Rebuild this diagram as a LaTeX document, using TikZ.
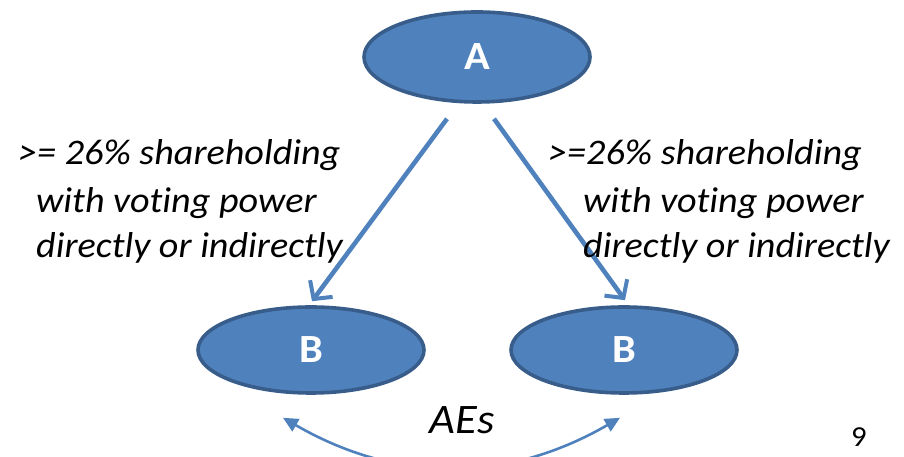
\documentclass[tikz,border=0pt]{standalone}
\usepackage{fontspec}
\setmainfont{Carlito}
\newfontfamily\lblfont[FakeStretch=1.06,Ligatures=NoCommon]{Carlito}
\usetikzlibrary{arrows.meta,calc,shapes.geometric}
\definecolor{fillblue}{HTML}{4F81BD}
\definecolor{edgeblue}{HTML}{385D8A}
\definecolor{arrowblue}{HTML}{4F81BD}
\tikzset{
  entity/.style={ellipse, draw=edgeblue, line width=3.6pt, fill=fillblue,
    minimum width=226pt, minimum height=88pt, inner sep=0pt,
    text=white, font=\lblfont\bfseries\fontsize{40}{40}\selectfont},
  ownarrow/.style={arrowblue, line width=4.6pt,
    -{Straight Barb[length=13pt,width=28pt,line width=4pt]}},
  aearrow/.style={arrowblue, line width=2.6pt,
    {Triangle[length=15pt,width=14pt]}-{Triangle[length=15pt,width=14pt]}},
  lbl/.style={anchor=base west, inner sep=0pt,
    font=\lblfont\itshape\fontsize{36}{36}\selectfont},
}
\begin{document}
\begin{tikzpicture}[x=1pt,y=1pt]
\useasboundingbox (0,0) rectangle (904,457);

% entities
\node[entity, minimum height=90pt] (A) at (477,400) {A};
\node[entity, minimum height=86pt] (B1) at (311,107) {B};
\node[entity, minimum height=86pt] (B2) at (624,107) {B};

% ownership arrows
\coordinate (a1) at ($(A.south)+(-30,-15)$);
\coordinate (a2) at ($(A.south)+(17,-15)$);
\coordinate (b1) at ($(B1.north)+(1,4)$);
\coordinate (b2) at ($(B2.north)+(1,5)$);
\draw[ownarrow] (a1) -- (b1);
\draw[ownarrow] (a2) -- (b2);

% left label
\node[lbl] (l1) at (18,292) {>= 26\% shareholding};
\node[lbl] (l2) at (36,244) {with voting power};
\node[lbl] (l3) at (36,199) {directly or indirectly};

% right label
\node[lbl] (r1) at (548,292) {>=26\% shareholding};
\node[lbl] (r2) at (583,244) {with voting power};
\node[lbl] (r3) at (583,199) {directly or indirectly};

% associated enterprises
\coordinate (c1) at ($(B1.south)+(-28,-23)$);
\coordinate (c2) at ($(B2.south)+(-4,-23)$);
\draw[aearrow] (c1) to[bend right=30] (c2);
\node[font=\lblfont\itshape\fontsize{42}{42}\selectfont, anchor=base] (ae) at (462,23) {AEs};

% page number
\node[font=\lblfont\fontsize{29}{29}\selectfont, anchor=base] (pg) at (859,10) {9};
\end{tikzpicture}
\end{document}
